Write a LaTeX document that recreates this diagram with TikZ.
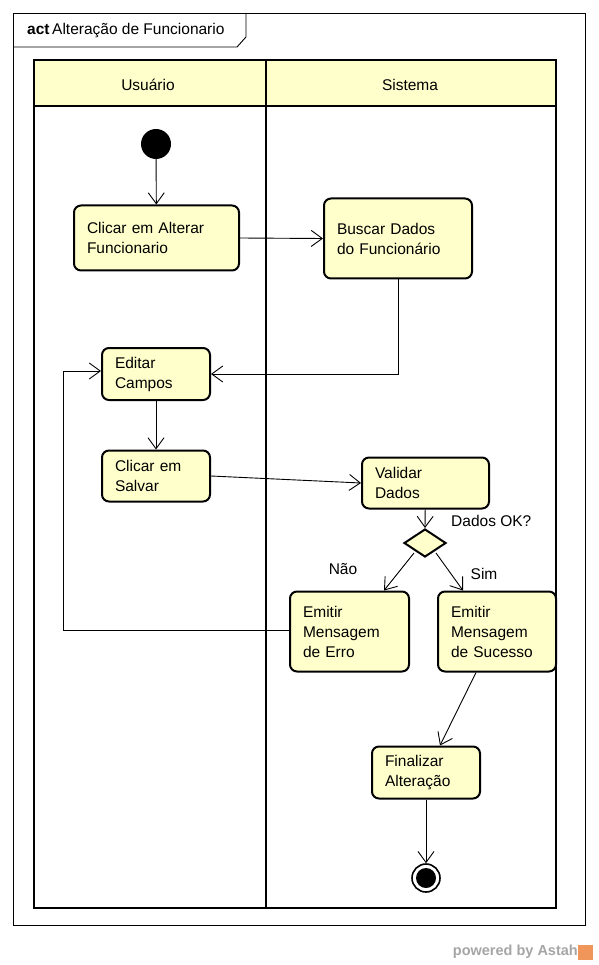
\documentclass[tikz,border=0pt]{standalone}
\usepackage{fontspec}
\setmainfont{Liberation Sans}
\usetikzlibrary{arrows.meta,shapes.geometric,calc}
\definecolor{actfill}{RGB}{255,255,204}
\definecolor{wmgray}{RGB}{165,165,165}
\definecolor{wmorange}{RGB}{240,150,90}
\begin{document}
\begin{tikzpicture}[x=1pt,y=-1pt,
  txt/.style={font=\fontsize{15.5}{20}\selectfont},
  act/.style={txt,draw,fill=actfill,line width=2pt,rounded corners=7pt,
     align=left,inner xsep=13pt,inner ysep=0pt},
  flow/.style={line width=0.9pt,-{Straight Barb[length=11pt,width=16pt,line width=0.9pt]}},
  lane/.style={line width=2pt},
]
\useasboundingbox (0,0) rectangle (598,965);
% outer frame and title tab
\draw[line width=0.9pt] (13,13) rectangle (585,925);
\draw[line width=0.9pt] (13,47) -- (237,47) -- (246,37) -- (246,13);
\node[txt,anchor=west,inner sep=0pt] (title) at (27,31) {\textbf{act}\,Alteração de Funcionario};
% swimlanes
\fill[actfill] (34,60) rectangle (556,106);
\draw[lane] (34,60) rectangle (556,908);
\draw[lane] (34,106) -- (556,106);
\draw[lane] (266,60) -- (266,908);
\node[txt] (lane1) at (148,85) {Usuário};
\node[txt] (lane2) at (410,85) {Sistema};
% nodes
\node[circle,fill=black,minimum size=30pt,inner sep=0pt] (start) at (156,144) {};
\node[act,minimum width=165pt,minimum height=65pt,text width=139pt] (clicar) at (156.5,238) {Clicar em Alterar\\Funcionario};
\node[act,minimum width=148pt,minimum height=80pt,text width=122pt] (buscar) at (398,238.5) {Buscar Dados\\do Funcionário};
\node[act,minimum width=108pt,minimum height=52pt,text width=82pt] (editar) at (156,374) {Editar\\Campos};
\node[act,minimum width=108pt,minimum height=51pt,text width=82pt] (salvar) at (156,476) {Clicar em\\Salvar};
\node[act,minimum width=127pt,minimum height=51pt,text width=101pt] (validar) at (425.5,483) {Validar\\Dados};
\node[diamond,draw,fill=actfill,line width=2pt,minimum width=42pt,minimum height=28pt,inner sep=0pt] (dec) at (425,543) {};
\node[act,minimum width=119pt,minimum height=80pt,text width=93pt] (erro) at (349.5,631.5) {Emitir\\Mensagem\\de Erro};
\node[act,minimum width=118pt,minimum height=80pt,text width=92pt] (sucesso) at (497,631.5) {Emitir\\Mensagem\\de Sucesso};
\node[act,minimum width=108pt,minimum height=52pt,text width=82pt] (final) at (426,772.5) {Finalizar\\Alteração};
\node[circle,draw,line width=1.6pt,minimum size=28pt,inner sep=0pt] (end) at (426,878) {};
\fill (end.center) circle (10pt);
% labels
\node[txt,anchor=west,inner sep=0pt] (lblok) at (451,521) {Dados OK?};
\node[txt,inner sep=0pt] (lblnao) at (343,569) {Não};
\node[txt,inner sep=0pt] (lblsim) at (484,574) {Sim};
% connectors
\draw[flow] (start) -- (clicar);
\draw[flow] (clicar.east) -- (buscar.west);
\draw[flow] (buscar.south) |- (editar.east);
\draw[flow] (editar) -- (salvar);
\draw[flow] (salvar.east) -- (validar.west);
\draw[flow] (validar) -- (dec.north);
\coordinate (decL) at (414,553);
\coordinate (decR) at (436,553);
\draw[flow] (decL) -- ([xshift=34.5pt]erro.north);
\draw[flow] (decR) -- ([xshift=-34pt]sucesso.north);
\coordinate (loopc) at (63,630);
\draw[flow] ([yshift=1.5pt]erro.west) -- (loopc) |- ([yshift=3pt]editar.west);
\draw[flow] ([xshift=-21pt]sucesso.south) -- ([xshift=14pt]final.north);
\draw[flow] (final) -- (end);
% watermark
\node[font=\bfseries\fontsize{14.5}{16}\selectfont,text=wmgray,anchor=east,inner sep=0pt] (wm) at (578,952) {powered by Astah};
\fill[wmorange] (578,945) rectangle (593,960);
\end{tikzpicture}
\end{document}
